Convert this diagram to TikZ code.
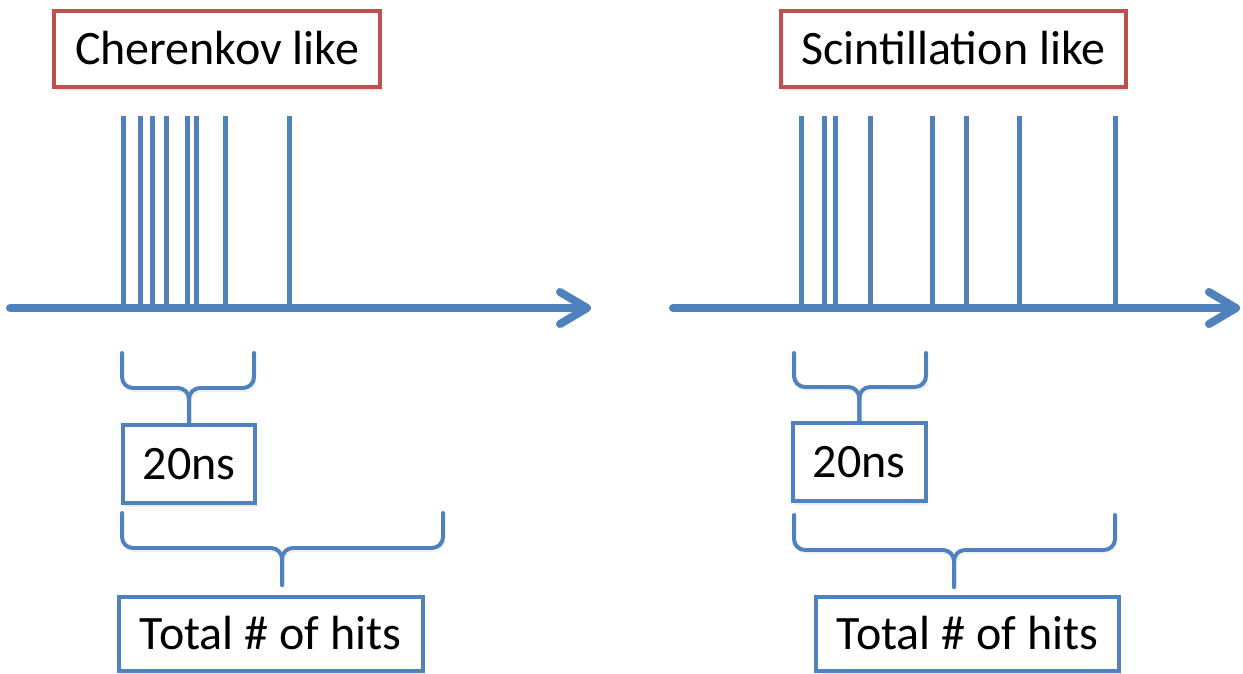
\documentclass[tikz,border=0pt]{standalone}
\usepackage{fontspec}
\setmainfont{Carlito}
\usetikzlibrary{arrows.meta,shadows}
\definecolor{ticblue}{RGB}{79,129,189}
\definecolor{boxred}{RGB}{192,80,77}

\begin{document}
\begin{tikzpicture}[x=1pt,y=-1pt,
  softshade/.style={preaction={draw=black, opacity=.16,
      transform canvas={shift={(1.5pt,-3.5pt)}}}},
  axisline/.style={draw=ticblue, line width=8pt, line cap=round, softshade,
      -{Straight Barb[length=27pt,width=32pt,round]}},
  hit/.style={draw=ticblue, line width=5pt, softshade},
  bracepath/.style={draw=ticblue, line width=4pt, line cap=round,
      line join=round, rounded corners=11pt, softshade},
  labelbox/.style={draw=ticblue, line width=4pt, fill=white, inner sep=0pt,
      font=\fontsize{48}{58}\selectfont, text height=30.3pt, text depth=0pt,
      drop shadow={opacity=.16, shadow xshift=1.5pt, shadow yshift=-3.5pt}},
  titlebox/.style={labelbox, draw=boxred}
]
\useasboundingbox (0,0) rectangle (1243,673);

% ---------------- Cherenkov-like pulse train ----------------
\coordinate (a0) at (10,308);
\coordinate (a1) at (591,308);
\foreach \x in {123.3,140.7,152.3,166.7,187.3,196,225,289}
  \draw[hit] (\x,116) -- (\x,308);
\draw[axisline] (a0) -- (a1);

\node[titlebox, minimum width=326pt, minimum height=76pt] (red1) at (217,49) {Cherenkov like};
\node[labelbox, minimum width=132.6pt, minimum height=78pt] (ns1) at (189,464.3) {20ns};
\node[labelbox, minimum width=304pt, minimum height=74pt] (tot1) at (270.7,634) {Total \# of hits};

% 20 ns window brace
\draw[bracepath] (122,353) -- (122,388) -- (ns1.north |- 0,388) -- (ns1.north);
\draw[bracepath] (254,353) -- (254,388) -- (ns1.north |- 0,388) -- (ns1.north);
% full window brace
\coordinate (tipA) at (282,585);
\draw[bracepath] (122,513) -- (122,548) -- (tipA |- 0,548) -- (tipA);
\draw[bracepath] (443,513) -- (443,548) -- (tipA |- 0,548) -- (tipA);

% ---------------- Scintillation-like pulse train ----------------
\coordinate (b0) at (673,308);
\coordinate (b1) at (1240,308);
\foreach \x in {801,824,835.7,870.7,932,966.7,1019,1115}
  \draw[hit] (\x,116) -- (\x,308);
\draw[axisline] (b0) -- (b1);

\node[titlebox, minimum width=345pt, minimum height=76pt] (red2) at (953.5,49) {Scintillation like};
\node[labelbox, minimum width=133.3pt, minimum height=78.3pt] (ns2) at (859.3,462.2) {20ns};
\node[labelbox, minimum width=303.3pt, minimum height=74pt] (tot2) at (967.7,634) {Total \# of hits};

% 20 ns window brace
\draw[bracepath] (794,353) -- (794,387) -- (ns2.north |- 0,387) -- (ns2.north);
\draw[bracepath] (926,353) -- (926,387) -- (ns2.north |- 0,387) -- (ns2.north);
% full window brace
\coordinate (tipB) at (954,587);
\draw[bracepath] (794,515) -- (794,550) -- (tipB |- 0,550) -- (tipB);
\draw[bracepath] (1115,515) -- (1115,550) -- (tipB |- 0,550) -- (tipB);
\end{tikzpicture}
\end{document}
